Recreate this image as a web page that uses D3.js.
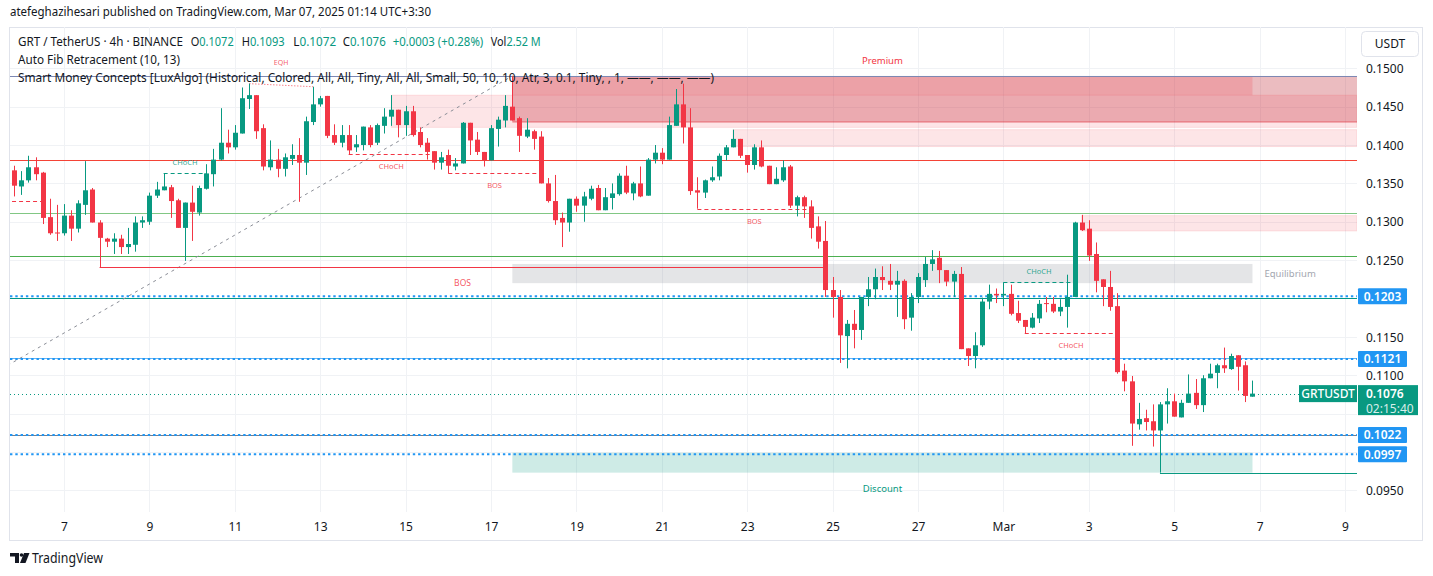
<!DOCTYPE html>
<html><head><meta charset="utf-8">
<script src="https://cdn.jsdelivr.net/npm/d3@7"></script>
<style>
body{margin:0;background:#fff;}
svg{display:block;}
text{font-family:"Noto Sans","Open Sans",Roboto,sans-serif;}
</style></head>
<body><svg id="c" width="1433" height="576"></svg>
<script>
// ---------- DATA ----------
const startTime = Date.UTC(2025, 1, 5, 20); // first 4h candle
const opens = [
.1367,.1346,.1354,.1371,.1364,.1306,.1286,.1285,.1308,.1291,.1322,.1342,.1299,.1278,.1274,.1278,.1267,.1270,.1299,.1300,
.1334,.1341,.1345,.1328,.1292,.1325,.1312,.1343,.1362,.1381,.1403,.1397,.1415,.1460,.1465,.1422,.1371,.1381,.1369,.1382,
.1387,.1377,.1430,.1453,.1464,.1413,.1403,.1413,.1397,.1400,.1423,.1403,.1425,.1437,.1446,.1426,.1444,.1417,.1403,.1392,
.1377,.1387,.1372,.1376,.1429,.1407,.1391,.1380,.1421,.1432,.1450,.1435,.1411,.1418,.1411,.1350,.1327,.1305,.1299,.1330,
.1321,.1330,.1344,.1315,.1331,.1336,.1360,.1337,.1350,.1334,.1381,.1390,.1381,.1425,.1453,.1423,.1341,.1338,.1354,.1359,
.1387,.1397,.1408,.1387,.1374,.1397,.1373,.1349,.1354,.1372,.1321,.1332,.1320,.1294,.1275,.1211,.1202,.1151,.1167,.1159,
.1202,.1212,.1228,.1223,.1218,.1223,.1175,.1202,.1224,.1245,.1253,.1237,.1222,.1232,.1135,.1125,.1139,.1196,.1206,.1204,
.1206,.1181,.1172,.1162,.1174,.1194,.1193,.1183,.1189,.1202,.1299,.1291,.1258,.1225,.1215,.1190,.1106,.1092,.1036,.1044,
.1040,.1028,.1062,.1066,.1045,.1064,.1077,.1061,.1096,.1103,.1113,.1108,.1126,.1113,.1072];
const highs = [
.1373,.1366,.1386,.1384,.1365,.1330,.1322,.1323,.1315,.1328,.1379,.1344,.1302,.1279,.1285,.1283,.1292,.1307,.1307,.1338,
.1352,.1363,.1348,.1330,.1325,.1347,.1347,.1375,.1395,.1448,.1420,.1426,.1475,.1480,.1465,.1427,.1406,.1395,.1389,.1401,
.1409,.1437,.1476,.1464,.1464,.1427,.1426,.1426,.1413,.1424,.1426,.1428,.1448,.1465,.1446,.1451,.1451,.1423,.1409,.1392,
.1391,.1394,.1383,.1430,.1429,.1417,.1391,.1426,.1437,.1465,.1490,.1437,.1435,.1420,.1418,.1357,.1361,.1312,.1330,.1333,
.1339,.1347,.1348,.1344,.1350,.1363,.1373,.1352,.1372,.1383,.1400,.1396,.1437,.1473,.1480,.1448,.1358,.1355,.1372,.1389,
.1400,.1420,.1408,.1387,.1401,.1406,.1373,.1371,.1380,.1374,.1334,.1334,.1328,.1307,.1301,.1228,.1211,.1172,.1185,.1202,
.1228,.1239,.1242,.1245,.1236,.1225,.1207,.1233,.1254,.1263,.1262,.1237,.1236,.1241,.1135,.1156,.1201,.1218,.1213,.1221,
.1218,.1197,.1172,.1181,.1198,.1202,.1202,.1199,.1231,.1300,.1309,.1302,.1273,.1225,.1236,.1207,.1115,.1099,.1064,.1055,
.1062,.1065,.1083,.1076,.1068,.1101,.1095,.1100,.1115,.1115,.1136,.1128,.1126,.1118,.1093];
const lows = [
.1333,.1335,.1351,.1354,.1297,.1283,.1275,.1282,.1275,.1286,.1309,.1299,.1241,.1267,.1258,.1258,.1258,.1261,.1292,.1296,
.1331,.1341,.1305,.1292,.1249,.1275,.1308,.1342,.1346,.1380,.1389,.1394,.1415,.1447,.1408,.1367,.1367,.1358,.1359,.1374,
.1326,.1361,.1426,.1450,.1409,.1400,.1397,.1388,.1391,.1393,.1397,.1400,.1415,.1425,.1410,.1412,.1411,.1397,.1381,.1368,
.1368,.1363,.1367,.1376,.1387,.1387,.1372,.1380,.1398,.1423,.1432,.1391,.1409,.1394,.1350,.1325,.1296,.1267,.1287,.1313,
.1300,.1328,.1315,.1315,.1316,.1334,.1336,.1328,.1332,.1334,.1376,.1375,.1381,.1425,.1402,.1335,.1317,.1331,.1352,.1354,
.1380,.1397,.1383,.1364,.1368,.1371,.1349,.1349,.1352,.1318,.1307,.1305,.1278,.1265,.1202,.1175,.1116,.1109,.1135,.1146,
.1190,.1199,.1211,.1211,.1176,.1160,.1158,.1194,.1215,.1236,.1220,.1216,.1202,.1134,.1112,.1109,.1137,.1186,.1194,.1190,
.1178,.1168,.1155,.1161,.1168,.1182,.1181,.1177,.1162,.1202,.1288,.1249,.1208,.1190,.1184,.1102,.1079,.1008,.1029,.1028,
.1007,.0973,.1037,.1046,.1045,.1064,.1056,.1052,.1096,.1083,.1103,.1107,.1080,.1065,.1072];
const closes = [
.1347,.1354,.1371,.1362,.1305,.1285,.1285,.1308,.1291,.1324,.1341,.1299,.1279,.1274,.1278,.1267,.1271,.1299,.1302,.1334,
.1342,.1346,.1327,.1292,.1325,.1313,.1344,.1363,.1381,.1403,.1397,.1416,.1461,.1465,.1418,.1372,.1381,.1369,.1384,.1387,
.1377,.1431,.1453,.1461,.1412,.1403,.1413,.1393,.1401,.1424,.1400,.1426,.1437,.1446,.1426,.1444,.1413,.1400,.1391,.1377,
.1384,.1373,.1376,.1429,.1406,.1391,.1380,.1422,.1433,.1451,.1432,.1412,.1420,.1408,.1350,.1327,.1302,.1299,.1330,.1321,
.1333,.1343,.1315,.1332,.1337,.1360,.1338,.1350,.1333,.1381,.1390,.1381,.1426,.1453,.1423,.1340,.1338,.1354,.1358,.1386,
.1397,.1408,.1386,.1374,.1397,.1372,.1349,.1356,.1371,.1321,.1332,.1320,.1292,.1274,.1211,.1202,.1152,.1167,.1159,.1202,
.1212,.1228,.1224,.1218,.1223,.1173,.1202,.1228,.1245,.1251,.1237,.1222,.1232,.1134,.1125,.1139,.1196,.1206,.1204,.1206,
.1180,.1171,.1163,.1175,.1193,.1193,.1183,.1189,.1202,.1299,.1289,.1256,.1223,.1215,.1189,.1104,.1092,.1037,.1043,.1039,
.1028,.1062,.1066,.1046,.1064,.1076,.1061,.1096,.1102,.1113,.1109,.1125,.1111,.1073,.1076];

const priceTicks = [0.095,0.100,0.105,0.110,0.115,0.120,0.125,0.130,0.135,0.140,0.145,0.150];
// labels hidden behind the price badges are not drawn
const priceLabelTicks = [0.095,0.110,0.115,0.125,0.130,0.135,0.140,0.145,0.150];
const dayTicks = ["2025-02-07","2025-02-09","2025-02-11","2025-02-13","2025-02-15","2025-02-17","2025-02-19",
  "2025-02-21","2025-02-23","2025-02-25","2025-02-27","2025-03-01","2025-03-03","2025-03-05","2025-03-07","2025-03-09"];
const dayTickLabels = ["7","9","11","13","15","17","19","21","23","25","27","Mar","3","5","7","9"];

// Auto Fib retracement levels (0 .. 1) and its anchor trend line
const fibLevels = [0.1490, 0.1380, 0.1311, 0.1256, 0.1201, 0.1122, 0.1022];
const fibAnchor = [[-18, 0.1022], [70, 0.1490]];

// user horizontal dotted lines with price badges
const markedLevels = [0.1203, 0.1121, 0.1022, 0.0997];
const lastPrice = 0.1076;
const countdown = "02:15:40";

// Smart Money Concepts zones [startIndex, endIndex (null = extend), top, bottom]
const premiumZone = [70, 174, 0.1490, 0.1465];
const equilibriumZone = [70, 174, 0.1245, 0.1220];
const discountZone = [70, 174, 0.0999, 0.0973];
const orderBlocksLight = [[53, null, 0.1465, 0.1423], [101, null, 0.1420, 0.1398], [150, null, 0.1308, 0.1288]];
const orderBlocksDark = [[70, null, 0.1490, 0.1430]];

// structure lines: [startIndex, endIndex, price, label, direction, kind]
const structureLines = [
  [-0.3, 4, 0.1327, "", "bear", "internal"],
  [21, 27, 0.1363, "CHoCH", "bull", "internal"],
  [47, 59, 0.1388, "CHoCH", "bear", "internal"],
  [61, 74, 0.1363, "BOS", "bear", "internal"],
  [12, 114, 0.1241, "BOS", "bear", "swing"],
  [96, 112, 0.1317, "BOS", "bear", "internal"],
  [139, 149, 0.1221, "CHoCH", "bull", "internal"],
  [142, 155, 0.1155, "CHoCH", "bear", "internal"]
];
const equalHighs = [[33, 0.1480], [42, 0.1476]];
const strongLow = [161, 0.0973];

// ---------- CHART ----------
const svg = d3.select("#c");
const plotL = 10, plotR = 1357, plotT = 27, plotB = 512;
const GREEN = "#089981", RED = "#f23645";

const x = d3.scaleUtc()
  .domain([new Date(Date.UTC(2025,1,7)), new Date(Date.UTC(2025,2,9))])
  .range([64, 1345]);
const y = d3.scaleLinear().domain([0.095, 0.15]).range([490.3, 68.3]);
const tOf = i => new Date(startTime + i * 4 * 3600 * 1000);
const xi = i => x(tOf(i));
const X = i => (i === null ? plotR : xi(i));

svg.append("defs").append("clipPath").attr("id","plot")
  .append("rect").attr("x",plotL).attr("y",plotT).attr("width",plotR-plotL).attr("height",plotB-plotT);

// header
svg.append("text").attr("x",10).attr("y",16).attr("font-size",13).attr("fill","#131722")
  .attr("textLength",421).attr("lengthAdjust","spacingAndGlyphs")
  .text("atefeghazihesari published on TradingView.com, Mar 07, 2025 01:14 UTC+3:30");

// pane border
svg.append("rect").attr("x",9.5).attr("y",27.5).attr("width",1413).attr("height",513)
  .attr("fill","none").attr("stroke","#e0e3eb");

// grid
const grid = svg.append("g");
grid.selectAll("line.h").data(priceTicks).join("line").attr("class","h")
  .attr("x1",plotL).attr("x2",plotR)
  .attr("y1",d=>Math.round(y(d))+0.5).attr("y2",d=>Math.round(y(d))+0.5)
  .attr("stroke","#f0f2f5");
const dayDates = dayTicks.map(d => new Date(d + "T00:00:00Z"));
grid.selectAll("line.v").data(dayDates).join("line").attr("class","v")
  .attr("x1",d=>Math.round(x(d))+0.5).attr("x2",d=>Math.round(x(d))+0.5)
  .attr("y1",plotT).attr("y2",plotB).attr("stroke","#f0f2f5");

const plot = svg.append("g").attr("clip-path","url(#plot)");

// zones
function box(g, z, fill, stroke) {
  g.append("rect").attr("x",X(z[0])).attr("width",X(z[1])-X(z[0]))
    .attr("y",y(z[2])).attr("height",y(z[3])-y(z[2]))
    .attr("fill",fill).attr("stroke",stroke||"none");
}
orderBlocksDark.forEach(z => box(plot, z, "rgba(188,32,45,0.30)"));
plot.selectAll("line.obb").data(orderBlocksDark).join("line")
  .attr("x1",d=>X(d[0])).attr("x2",d=>X(d[1])).attr("y1",d=>y(d[3])).attr("y2",d=>y(d[3]))
  .attr("stroke","rgba(220,40,50,0.6)");
box(plot, premiumZone, "rgba(242,54,69,0.20)");
orderBlocksLight.forEach(z => box(plot, z, "rgba(242,54,69,0.13)", "rgba(242,54,69,0.12)"));
box(plot, equilibriumZone, "rgba(120,123,134,0.20)");
box(plot, discountZone, "rgba(8,153,129,0.20)");

const zoneLbl = svg.append("g").attr("font-size",9.5);
zoneLbl.append("text").attr("x",(X(premiumZone[0])+X(premiumZone[1]))/2).attr("y",y(premiumZone[2])-15)
  .attr("dy","0.35em").attr("text-anchor","middle").attr("fill",RED).text("Premium");
zoneLbl.append("text").attr("x",(X(discountZone[0])+X(discountZone[1]))/2).attr("y",y(discountZone[3])+16)
  .attr("dy","0.35em").attr("text-anchor","middle").attr("fill",GREEN).text("Discount");
zoneLbl.append("text").attr("x",X(equilibriumZone[1])+12).attr("y",y((equilibriumZone[2]+equilibriumZone[3])/2))
  .attr("dy","0.35em").attr("fill","#a3a6af").text("Equilibrium");

// fib levels
const fibColors = ["#7d88b3","#f44336","#81c784","#4caf50","#009688","#64b5f6","#787b86"];
plot.selectAll("line.fib").data(fibLevels).join("line")
  .attr("x1",plotL).attr("x2",plotR)
  .attr("y1",d=>Math.round(y(d))+0.5).attr("y2",d=>Math.round(y(d))+0.5)
  .attr("stroke",(d,i)=>fibColors[i]).attr("stroke-width",1);
plot.append("line")
  .attr("x1",xi(fibAnchor[0][0])).attr("y1",y(fibAnchor[0][1]))
  .attr("x2",xi(fibAnchor[1][0])).attr("y2",y(fibAnchor[1][1]))
  .attr("stroke","#8a8d96").attr("stroke-dasharray","3,4");

// strong low line
plot.append("line").attr("x1",xi(strongLow[0])).attr("x2",plotR)
  .attr("y1",Math.round(y(strongLow[1]))+0.5).attr("y2",Math.round(y(strongLow[1]))+0.5)
  .attr("stroke",GREEN);

// equal highs
plot.append("line").attr("x1",xi(equalHighs[0][0])).attr("y1",y(equalHighs[0][1]))
  .attr("x2",xi(equalHighs[1][0])).attr("y2",y(equalHighs[1][1]))
  .attr("stroke",RED).attr("stroke-opacity",0.6).attr("stroke-dasharray","1.5,1.5");
svg.append("text").attr("x",(xi(equalHighs[0][0])+xi(equalHighs[1][0]))/2).attr("y",63)
  .attr("dy","0.35em").attr("text-anchor","middle").attr("font-size",7).attr("fill",RED).attr("fill-opacity",0.8).text("EQH");

// structure lines
structureLines.forEach(s => {
  const col = s[4] === "bull" ? GREEN : RED;
  const yy = Math.round(y(s[2])) + 0.5;
  plot.append("line").attr("x1",xi(s[0])).attr("x2",xi(s[1])).attr("y1",yy).attr("y2",yy)
    .attr("stroke",col).attr("stroke-width",1.2)
    .attr("stroke-dasharray", s[5]==="swing" ? null : "4,3");
  if (s[3]) {
    const off = s[5]==="swing" ? 16 : 11.5;
    svg.append("text").attr("x",(xi(s[0])+xi(s[1]))/2)
      .attr("y", s[4]==="bull" ? yy-off : yy+off).attr("dy","0.35em")
      .attr("text-anchor","middle").attr("font-size", s[5]==="swing"?8.5:7.5)
      .attr("fill",col).attr("fill-opacity",0.85).text(s[3]);
  }
});

// marked dotted levels
plot.selectAll("line.mk").data(markedLevels).join("line")
  .attr("x1",plotL).attr("x2",plotR)
  .attr("y1",d=>y(d)).attr("y2",d=>y(d))
  .attr("stroke","#2196f3").attr("stroke-width",2).attr("stroke-dasharray","2.4,2.9");

// current price line
plot.append("line").attr("x1",plotL).attr("x2",1299)
  .attr("y1",Math.round(y(lastPrice))+0.5).attr("y2",Math.round(y(lastPrice))+0.5)
  .attr("stroke",GREEN).attr("stroke-dasharray","1,3");

// candles
const idx = d3.range(opens.length);
const cg = plot.append("g");
cg.selectAll("line.w").data(idx).join("line").attr("class","w")
  .attr("x1",i=>Math.round(xi(i))+0.5).attr("x2",i=>Math.round(xi(i))+0.5)
  .attr("y1",i=>y(highs[i])).attr("y2",i=>y(lows[i]))
  .attr("stroke",i=>closes[i]>=opens[i]?GREEN:RED);
cg.selectAll("rect").data(idx).join("rect")
  .attr("x",i=>Math.round(xi(i))-2).attr("width",5)
  .attr("y",i=>y(Math.max(opens[i],closes[i])))
  .attr("height",i=>Math.max(1,Math.abs(y(opens[i])-y(closes[i]))))
  .attr("fill",i=>closes[i]>=opens[i]?GREEN:RED);

// legend
const lg = svg.append("g").attr("font-size",12).attr("fill","#131722");
const L1 = 46;
lg.append("text").attr("x",18).attr("y",L1).attr("textLength",165).attr("lengthAdjust","spacingAndGlyphs")
  .text("GRT / TetherUS · 4h · BINANCE");
const ohlc = [["O",opens],["H",highs],["L",lows],["C",closes]];
const last = opens.length-1;
const ohlcX = [190.7,241.7,293.3,342.7];
ohlc.forEach((o,k)=>{
  const t = lg.append("text").attr("x",ohlcX[k]).attr("y",L1)
    .attr("textLength",43).attr("lengthAdjust","spacingAndGlyphs");
  t.append("tspan").text(o[0]);
  t.append("tspan").attr("fill",GREEN).text(o[1][last].toFixed(4));
});
lg.append("text").attr("x",392.7).attr("y",L1).attr("fill",GREEN).attr("textLength",90.6).attr("lengthAdjust","spacingAndGlyphs")
  .text("+0.0003 (+0.28%)");
const vt = lg.append("text").attr("x",490.7).attr("y",L1).attr("textLength",50).attr("lengthAdjust","spacingAndGlyphs");
vt.append("tspan").text("Vol");
vt.append("tspan").attr("fill",GREEN).text("2.52 M");
lg.append("text").attr("x",18).attr("y",64).attr("font-size",13).attr("textLength",162).attr("lengthAdjust","spacingAndGlyphs")
  .text("Auto Fib Retracement (10, 13)");
lg.append("text").attr("x",18).attr("y",81.5).attr("font-size",13).attr("textLength",696).attr("lengthAdjust","spacingAndGlyphs")
  .text("Smart Money Concepts [LuxAlgo] (Historical, Colored, All, All, Tiny, All, All, Small, 50, 10, 10, Atr, 3, 0.1, Tiny, , 1, ——, ——, ——)");

// price axis
const yAxis = d3.axisRight(y).tickValues(priceLabelTicks).tickSize(0).tickPadding(0).tickFormat(d3.format(".4f"));
const gy = svg.append("g").attr("transform","translate(1366,0)").call(yAxis);
gy.select(".domain").remove();
gy.selectAll("text").attr("font-size",12).attr("fill","#131722").attr("dy","0.35em")
  .attr("font-family","Roboto, 'Noto Sans', sans-serif");

// time axis
const xAxis = d3.axisBottom(x).tickValues(dayDates).tickSize(0).tickPadding(0).tickFormat((d,i)=>dayTickLabels[i]);
const gx = svg.append("g").attr("transform","translate(0,527)").call(xAxis);
gx.select(".domain").remove();
gx.selectAll("text").attr("font-size",12).attr("fill","#131722").attr("dy","0.35em").attr("y",0)
  .attr("font-family","Roboto, 'Noto Sans', sans-serif");

// badges
const bg = svg.append("g").attr("font-family","Roboto, 'Noto Sans', sans-serif").attr("font-size",12);
markedLevels.forEach(v=>{
  const yy = y(v);
  bg.append("rect").attr("x",1358).attr("y",yy-8).attr("width",49).attr("height",16).attr("rx",1).attr("fill","#2196f3");
  bg.append("text").attr("x",1382.5).attr("y",yy).attr("dy","0.36em").attr("text-anchor","middle")
    .attr("fill","#fff").attr("font-weight",600).text(d3.format(".4f")(v));
});
const ly = y(lastPrice);
bg.append("rect").attr("x",1299).attr("y",ly-8.5).attr("width",58).attr("height",17).attr("fill",GREEN);
bg.append("text").attr("x",1328).attr("y",ly).attr("dy","0.36em").attr("text-anchor","middle").attr("fill","#fff")
  .attr("font-weight",500).text("GRTUSDT");
bg.append("rect").attr("x",1358).attr("y",ly-8.5).attr("width",60).attr("height",30).attr("fill",GREEN);
bg.append("text").attr("x",1366).attr("y",ly).attr("dy","0.36em").attr("fill","#fff").attr("font-weight",600)
  .text(d3.format(".4f")(lastPrice));
bg.append("text").attr("x",1366).attr("y",ly+15).attr("dy","0.36em").attr("fill","#fff").attr("fill-opacity",0.85)
  .text(countdown);

// currency box
svg.append("rect").attr("x",1361.5).attr("y",31.5).attr("width",57).attr("height",25).attr("rx",4)
  .attr("fill","#fff").attr("stroke","#e0e3eb");
svg.append("text").attr("x",1390).attr("y",44).attr("dy","0.35em").attr("text-anchor","middle")
  .attr("font-size",12).attr("fill","#131722").attr("font-family","Roboto, 'Noto Sans', sans-serif").text("USDT");

// TradingView logo
const logo = svg.append("g").attr("fill","#131722");
logo.append("path").attr("d","M10,553 H19 V563 H15 V556.5 H10 Z");
logo.append("circle").attr("cx",21.5).attr("cy",555).attr("r",1.8);
logo.append("path").attr("d","M24,553 H29.5 L25.5,563 H20 Z");
svg.append("text").attr("x",32).attr("y",563).attr("font-size",14).attr("fill","#131722")
  .attr("textLength",71).attr("lengthAdjust","spacingAndGlyphs").text("TradingView");
</script></body></html>
